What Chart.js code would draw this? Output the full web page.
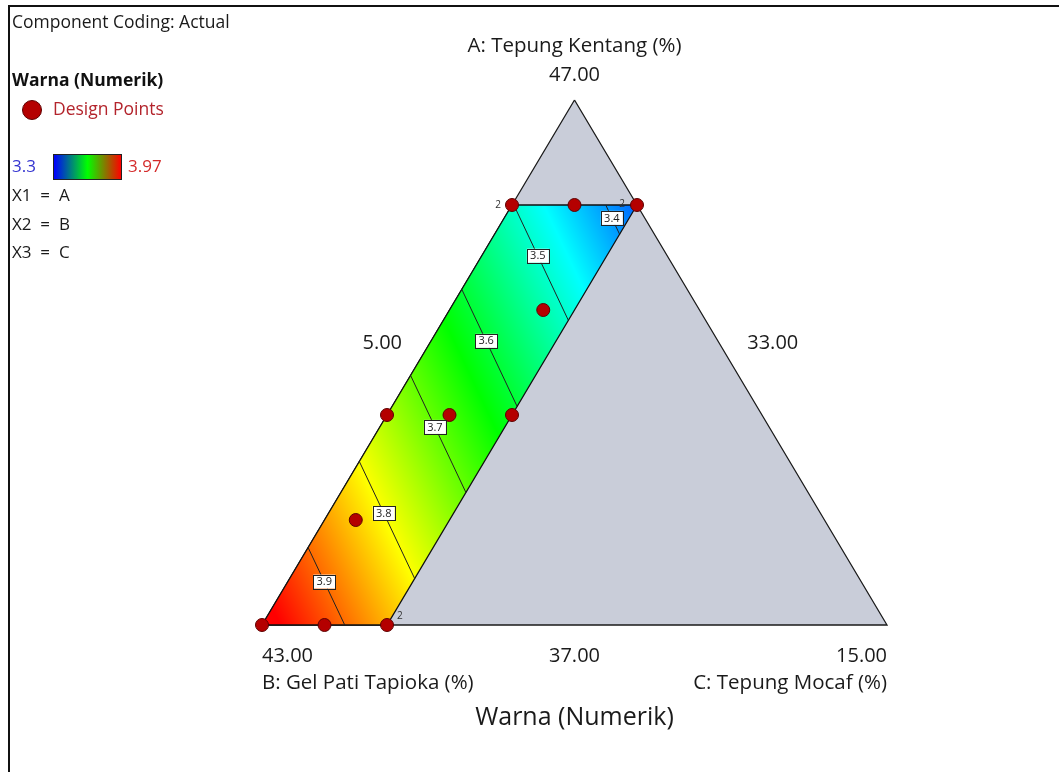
<!DOCTYPE html>
<html>
<head>
<meta charset="utf-8">
<title>Warna (Numerik)</title>
<script src="https://cdn.jsdelivr.net/npm/chart.js@4.4.1/dist/chart.umd.min.js"></script>
<style>
  body { margin: 0; background: #fff; }
  canvas { display: block; }
</style>
</head>
<body>
<canvas id="myChart" width="1059" height="772"></canvas>
<script>
var componentLabels = ['A: Tepung Kentang (%)', 'B: Gel Pati Tapioka (%)', 'C: Tepung Mocaf (%)'];
var componentLow = [37, 33, 5];
var componentHigh = [47, 43, 15];
var mixTotal = 85;

// extra constraints on the design space (actual %)
var limitA = [37, 45];
var limitC = [5, 7];

// design points (actual %), replicates per point
var designA = [45, 45, 45, 43, 41, 41, 41, 39, 37, 37, 37];
var designB = [35, 34, 33, 35.5, 39, 38, 37, 40.5, 43, 42, 41];
var designC = [5, 6, 7, 6.5, 5, 6, 7, 5.5, 5, 6, 7];
var designReps = [2, 1, 2, 1, 1, 1, 1, 1, 1, 1, 2];

// linear mixture model in pseudo components
var modelCoef = [3.38, 3.99, 3.31];
var contourLevels = [3.4, 3.5, 3.6, 3.7, 3.8, 3.9];
var colorRange = [3.3, 3.97];

var FONT = "'Open Sans', 'Noto Sans', sans-serif";
var pseudoRange = mixTotal - componentLow[0] - componentLow[1] - componentLow[2];

function pseudo(v, i) { return (v - componentLow[i]) / pseudoRange; }
function toXY(a, c) { return { x: c + a / 2, y: a }; }
function predict(a, b, c) { return modelCoef[0] * a + modelCoef[1] * b + modelCoef[2] * c; }

function fieldColor(v) {
  var t = (v - colorRange[0]) / (colorRange[1] - colorRange[0]);
  t = Math.max(0, Math.min(1, t));
  if (t < 0.25) return [0, 255 * t * 4, 255];
  if (t < 0.5) return [0, 255, 255 * (1 - (t - 0.25) * 4)];
  if (t < 0.75) return [255 * (t - 0.5) * 4, 255, 0];
  return [255, 255 * (1 - (t - 0.75) * 4), 0];
}

// constrained region corners as [a, c]
var aLo = pseudo(limitA[0], 0), aHi = pseudo(limitA[1], 0);
var cLo = pseudo(limitC[0], 2), cHi = pseudo(limitC[1], 2);
var regionCorners = [[aHi, cLo], [aHi, cHi], [aLo, cHi], [aLo, cLo]];

function cornerValue(p) { return predict(p[0], 1 - p[0] - p[1], p[1]); }

function contourSegment(level) {
  var pts = [];
  for (var i = 0; i < regionCorners.length; i++) {
    var p = regionCorners[i], q = regionCorners[(i + 1) % regionCorners.length];
    var vp = cornerValue(p), vq = cornerValue(q);
    if (vp === vq) continue;
    var t = (level - vp) / (vq - vp);
    if (t >= 0 && t < 1) pts.push([p[0] + t * (q[0] - p[0]), p[1] + t * (q[1] - p[1])]);
  }
  pts.sort(function (m, n) { return n[0] - m[0]; });
  return pts.map(function (p) { return toXY(p[0], p[1]); });
}

var fieldPattern = null;
function getFieldPattern(chart) {
  if (fieldPattern) return fieldPattern;
  var area = chart.chartArea;
  if (!area) return '#c9cdd8';
  var xs = chart.scales.x, ys = chart.scales.y;
  var off = document.createElement('canvas');
  off.width = chart.width;
  off.height = chart.height;
  var octx = off.getContext('2d');
  var img = octx.createImageData(off.width, off.height);
  for (var py = Math.floor(area.top); py < Math.ceil(area.bottom); py++) {
    var a = ys.getValueForPixel(py + 0.5);
    for (var px = Math.floor(area.left); px < Math.ceil(area.right); px++) {
      var c = xs.getValueForPixel(px + 0.5) - a / 2;
      var rgb = fieldColor(predict(a, 1 - a - c, c));
      var k = (py * off.width + px) * 4;
      img.data[k] = rgb[0];
      img.data[k + 1] = rgb[1];
      img.data[k + 2] = rgb[2];
      img.data[k + 3] = 255;
    }
  }
  octx.putImageData(img, 0, 0);
  fieldPattern = chart.ctx.createPattern(off, 'no-repeat');
  return fieldPattern;
}

var trianglePts = [toXY(1, 0), toXY(0, 1), toXY(0, 0), toXY(1, 0)];
var regionPts = regionCorners.map(function (p) { return toXY(p[0], p[1]); });
regionPts.push(regionPts[0]);

var designPts = designA.map(function (A, i) {
  return toXY(pseudo(A, 0), pseudo(designC[i], 2));
});

var datasets = [{
  data: trianglePts,
  borderColor: '#1a1a1a',
  borderWidth: 1.3,
  backgroundColor: '#c9cdd9',
  fill: 'shape',
  pointRadius: 0,
  clip: false,
  order: 10
}, {
  data: regionPts,
  borderColor: '#111',
  borderWidth: 1.3,
  backgroundColor: function (ctx) { return getFieldPattern(ctx.chart); },
  fill: 'shape',
  pointRadius: 0,
  clip: false,
  order: 9
}];

contourLevels.forEach(function (lv) {
  datasets.push({
    label: lv.toFixed(1),
    data: contourSegment(lv),
    borderColor: '#222',
    borderWidth: 1,
    pointRadius: 0,
    fill: false,
    clip: false,
    order: 5
  });
});

datasets.push({
  data: designPts,
  showLine: false,
  pointRadius: 6.5,
  pointBackgroundColor: '#b40000',
  pointBorderColor: '#5e0000',
  pointBorderWidth: 1,
  clip: false,
  order: 0
});

function txt(ctx, s, x, y, size, align, color, weight) {
  ctx.font = (weight || 'normal') + ' ' + size + 'px ' + FONT;
  ctx.textAlign = align;
  ctx.textBaseline = 'middle';
  ctx.fillStyle = color || '#1a1a1a';
  ctx.fillText(s, x, y);
}

var decorations = {
  id: 'decorations',
  afterDraw: function (chart) {
    var ctx = chart.ctx, xs = chart.scales.x, ys = chart.scales.y;
    function px(p) { return { x: xs.getPixelForValue(p.x), y: ys.getPixelForValue(p.y) }; }
    ctx.save();

    // frame
    ctx.strokeStyle = '#111';
    ctx.lineWidth = 2;
    ctx.beginPath();
    ctx.moveTo(9, chart.height);
    ctx.lineTo(9, 6);
    ctx.lineTo(chart.width, 6);
    ctx.stroke();

    // contour labels
    chart.data.datasets.forEach(function (ds) {
      if (!ds.label) return;
      var p0 = px(ds.data[0]), p1 = px(ds.data[1]);
      var t = 0.44;
      var x = p0.x + t * (p1.x - p0.x), y = p0.y + t * (p1.y - p0.y);
      ctx.fillStyle = '#fff';
      ctx.fillRect(x - 11, y - 7, 22, 14);
      ctx.strokeStyle = '#222';
      ctx.lineWidth = 1;
      ctx.strokeRect(Math.round(x - 11) + 0.5, Math.round(y - 7) + 0.5, 22, 14);
      txt(ctx, ds.label, x, y + 0.5, 11, 'center', '#222');
    });

    // replicate counts
    designPts.forEach(function (p, i) {
      if (designReps[i] < 2) return;
      var q = px(p), dx = 10, dy = -9, al = 'left';
      if (designC[i] === componentLow[2]) { dx = -11; dy = 0; al = 'right'; }
      else if (designA[i] === limitA[1]) { dx = -12; dy = -1; al = 'right'; }
      txt(ctx, String(designReps[i]), q.x + dx, q.y + dy, 10, al, '#333');
    });

    // component axis labels
    var apex = px(toXY(1, 0)), vB = px(toXY(0, 0)), vC = px(toXY(0, 1));
    txt(ctx, componentLabels[0], apex.x, apex.y - 54, 20.5, 'center');
    txt(ctx, componentHigh[0].toFixed(2), apex.x, apex.y - 25, 20, 'center');
    txt(ctx, componentLow[2].toFixed(2), (apex.x + vB.x) / 2 - 36, (apex.y + vB.y) / 2 - 19, 20, 'center');
    txt(ctx, componentLow[1].toFixed(2), (apex.x + vC.x) / 2 + 42, (apex.y + vC.y) / 2 - 19, 20, 'center');
    txt(ctx, componentHigh[1].toFixed(2), vB.x, vB.y + 31, 20, 'left');
    txt(ctx, componentLow[0].toFixed(2), (vB.x + vC.x) / 2, vB.y + 31, 20, 'center');
    txt(ctx, componentHigh[2].toFixed(2), vC.x, vC.y + 31, 20, 'right');
    txt(ctx, componentLabels[1], vB.x, vB.y + 58, 20.5, 'left');
    txt(ctx, componentLabels[2], vC.x, vC.y + 58, 20.5, 'right');
    txt(ctx, 'Warna (Numerik)', apex.x, vB.y + 93, 25, 'center');

    // legend block
    txt(ctx, 'Component Coding: Actual', 12, 23, 17.5, 'left');
    txt(ctx, 'Warna (Numerik)', 12, 81, 17.5, 'left', '#111', 'bold');
    ctx.beginPath();
    ctx.arc(32, 110, 9.5, 0, Math.PI * 2);
    ctx.fillStyle = '#b40000';
    ctx.fill();
    ctx.strokeStyle = '#5e0000';
    ctx.lineWidth = 1;
    ctx.stroke();
    txt(ctx, 'Design Points', 53, 110, 17.5, 'left', '#b3242c');

    txt(ctx, String(colorRange[0]), 12, 167, 17, 'left', '#3434d0');
    var g = ctx.createLinearGradient(54, 0, 121, 0);
    g.addColorStop(0, '#0000ff');
    g.addColorStop(0.5, '#00ff00');
    g.addColorStop(1, '#ff0000');
    ctx.fillStyle = g;
    ctx.fillRect(54, 155, 67, 24);
    ctx.strokeStyle = '#222';
    ctx.strokeRect(53.5, 154.5, 68, 25);
    txt(ctx, String(colorRange[1]), 128, 167, 17, 'left', '#d42a2a');
    txt(ctx, 'X1  =  A', 12, 196, 17, 'left');
    txt(ctx, 'X2  =  B', 12, 225, 17, 'left');
    txt(ctx, 'X3  =  C', 12, 253, 17, 'left');

    ctx.restore();
  }
};

new Chart('myChart', {
  type: 'line',
  data: { datasets: datasets },
  options: {
    responsive: false,
    animation: false,
    layout: { padding: { left: 262, right: 172, top: 100, bottom: 147 } },
    scales: {
      x: { type: 'linear', min: 0, max: 1, display: false },
      y: { type: 'linear', min: 0, max: 1, display: false }
    },
    elements: { line: { tension: 0 } },
    plugins: {
      legend: { display: false },
      tooltip: { enabled: false }
    }
  },
  plugins: [decorations]
});
</script>
</body>
</html>
